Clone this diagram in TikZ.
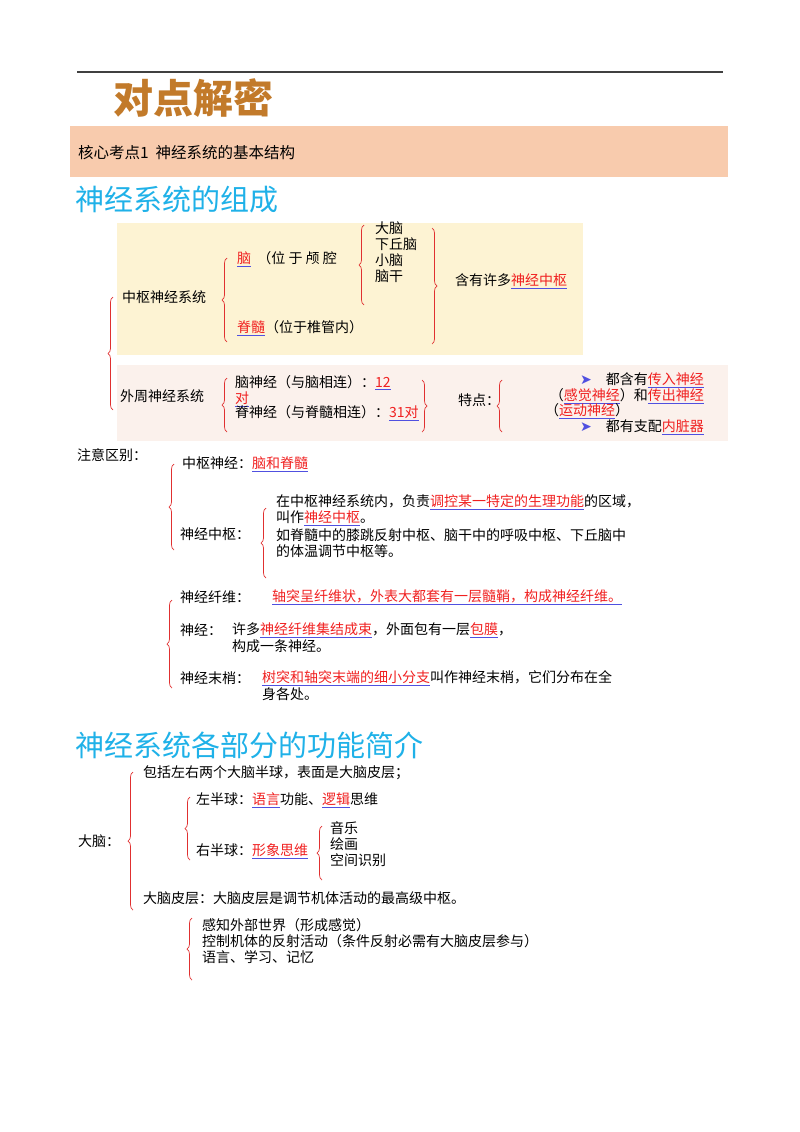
\documentclass[tikz,border=0pt]{standalone}
\usepackage{fontspec}
\setmainfont{Noto Sans CJK SC}
\newfontfamily\dvs{DejaVu Sans}
\usetikzlibrary{decorations.pathreplacing}
\definecolor{hlred}{HTML}{F02020}
\definecolor{ulblue}{HTML}{5050E0}
\definecolor{brred}{HTML}{E03030}
\definecolor{band}{HTML}{F8CBAD}
\definecolor{cyanh}{HTML}{1FB1E8}
\definecolor{yelbox}{HTML}{FDF3D3}
\definecolor{pinkbox}{HTML}{FBF1EC}
\definecolor{brown}{HTML}{C27A2A}
\newcommand\hl[1]{\textcolor{ulblue}{\underline{\textcolor{hlred}{#1}}}}
\newcommand\arr{\textcolor{ulblue}{\dvs ➤}}
\begin{document}
\begin{tikzpicture}[x=1pt,y=-1pt,
  t/.style={anchor=west,inner sep=0pt,font=\fontsize{14}{17}\selectfont},
  ob/.style={draw=brred,line width=0.7pt,decorate,decoration={brace,amplitude=5pt}},
  head/.style={anchor=west,inner sep=0pt,text=cyanh,font=\fontsize{29}{32}\selectfont}]
\useasboundingbox (0,0) rectangle (800,1132);
\draw[line width=1.3pt,black!75] (77,72) -- (723,72);
\node[anchor=west,inner sep=0pt,text=brown,font=\fontsize{40}{42}\selectfont\bfseries] (title) at (113,98) {对点解密};
\fill[band] (70,126) rectangle (728,177);
\node[anchor=west,inner sep=0pt,font=\fontsize{15.5}{18}\selectfont] (band) at (78,153) {核心考点1\ \ 神经系统的基本结构};
\node[head] (h1) at (75,200) {神经系统的组成};
\fill[yelbox] (117,223) rectangle (583,355);
\fill[pinkbox] (117,365) rectangle (728,441);
% level 1
\draw[ob] (113,410) -- (113,297);
\node[t] (zs) at (122,297) {中枢神经系统};
\node[t] (wz) at (120,396) {外周神经系统};
\draw[ob] (227,342) -- (227,258);
\node[t] (nao) at (237,259) {\hl{脑}\ \ （位\ 于\ 颅\ 腔};
\node[t] (jis) at (237,328) {\hl{脊髓}（位于椎管内）};
\draw[ob] (364,305) -- (364,225);
\node[t] (n1) at (375,228) {大脑};
\node[t] (n2) at (375,244) {下丘脑};
\node[t] (n3) at (375,260) {小脑};
\node[t] (n4) at (375,276) {脑干};
\draw[ob] (432,228) -- (432,344);
\node[t] (hy) at (455,281) {含有许多\hl{神经中枢}};
\draw[ob] (227,432) -- (227,378);
\node[t] (ns) at (235,383) {脑神经（与脑相连）：\hl{12}};
\node[t] (dui) at (235,399) {\hl{对}};
\node[t] (js) at (235,413) {脊神经（与脊髓相连）：\hl{31对}};
\draw[ob] (422,380) -- (422,432);
\node[t] (td) at (458,400) {特点：};
\draw[ob] (502,432) -- (502,380);
\node[t,anchor=east] (f1) at (704,380) {\arr\quad 都含有\hl{传入神经}};
\node[t,anchor=east] (f2) at (704,396) {（\hl{感觉神经}）和\hl{传出神经}};
\node[t] (f3) at (545,411) {（\hl{运动神经}）};
\node[t,anchor=east] (f4) at (704,427) {\arr\quad 都有支配\hl{内脏器}};
% note
\node[t] (zy) at (77,455) {注意区别：};
\draw[ob] (174,550) -- (174,464);
\node[t] (a1) at (182,464) {中枢神经：\hl{脑和脊髓}};
\node[t] (a2) at (180,534) {神经中枢：};
\draw[ob] (266,578) -- (266,508);
\node[t] (b1) at (276,502) {在中枢神经系统内，负责\hl{调控某一特定的生理功能}的区域，};
\node[t] (b2) at (276,518) {叫作\hl{神经中枢}。};
\node[t] (b3) at (276,535) {如脊髓中的膝跳反射中枢、脑干中的呼吸中枢、下丘脑中};
\node[t] (b4) at (276,551) {的体温调节中枢等。};
\draw[ob] (172,688) -- (172,600);
\node[t] (c1) at (180,597) {神经纤维：};
\node[t] (c1b) at (272,597) {\hl{轴突呈纤维状，外表大都套有一层髓鞘，构成神经纤维。}};
\node[t] (c2) at (180,630) {神经：};
\node[t] (c2b) at (232,630) {许多\hl{神经纤维集结成束}，外面包有一层\hl{包膜}，};
\node[t] (c2c) at (232,646) {构成一条神经。};
\node[t] (c3) at (180,678) {神经末梢：};
\node[t] (c3b) at (262,678) {\hl{树突和轴突末端的细小分支}叫作神经末梢，它们分布在全};
\node[t] (c3c) at (262,694) {身各处。};
% section 2
\node[head] (h2) at (75,745) {神经系统各部分的功能简介};
\draw[ob] (133,910) -- (133,772);
\node[t] (dn) at (78,841) {大脑：};
\node[t] (d1) at (143,773) {包括左右两个大脑半球，表面是大脑皮层；};
\draw[ob] (190,860) -- (190,797);
\node[t] (d2) at (196,800) {左半球：\hl{语言}功能、\hl{逻辑}思维};
\node[t] (d3) at (196,851) {右半球：\hl{形象思维}};
\draw[ob] (322,880) -- (322,826);
\node[t] (e1) at (330,828) {音乐};
\node[t] (e2) at (330,844) {绘画};
\node[t] (e3) at (330,860) {空间识别};
\node[t] (d4) at (143,898) {大脑皮层：大脑皮层是调节机体活动的最高级中枢。};
\draw[ob] (192,980) -- (192,918);
\node[t] (g1) at (202,925) {感知外部世界（形成感觉）};
\node[t] (g2) at (202,941) {控制机体的反射活动（条件反射必需有大脑皮层参与）};
\node[t] (g3) at (202,957) {语言、学习、记忆};
\end{tikzpicture}
\end{document}
